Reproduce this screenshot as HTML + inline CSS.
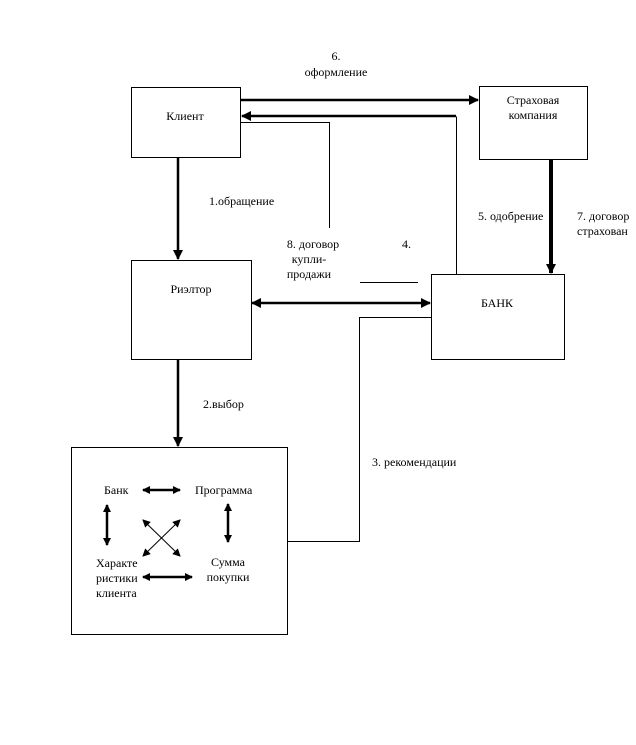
<!DOCTYPE html><html><head><meta charset="utf-8"><style>body{margin:0;background:#fff}svg{display:block}text{font-family:"Liberation Serif",serif;font-size:12px;fill:#000}</style></head><body>
<svg width="636" height="745" viewBox="0 0 636 745">
<defs>
<marker id="a" markerWidth="8" markerHeight="8" refX="7" refY="4" orient="auto-start-reverse" markerUnits="userSpaceOnUse"><path d="M0,0L8,4L0,8z"/></marker>
<marker id="b" markerWidth="10" markerHeight="10" refX="9" refY="5" orient="auto-start-reverse" markerUnits="userSpaceOnUse"><path d="M0,0L10,5L0,10z"/></marker>
</defs>
<g fill="none" stroke="#000" stroke-width="1">
<rect x="131.5" y="87.5" width="109" height="70"/>
<rect x="479.5" y="86.5" width="108" height="73"/>
<rect x="131.5" y="260.5" width="120" height="99"/>
<rect x="431.5" y="274.5" width="133" height="85"/>
<rect x="71.5" y="447.5" width="216" height="187"/>
<polyline points="456.5,274 456.5,116.5"/>
<polyline points="241,122.5 329.5,122.5 329.5,228"/>
<line x1="360" y1="282.5" x2="418" y2="282.5"/>
<polyline points="431,317.5 359.5,317.5 359.5,541.5 287,541.5"/>
<line x1="143" y1="520" x2="180" y2="556" marker-start="url(#a)" marker-end="url(#a)"/>
<line x1="180" y1="520" x2="143" y2="556" marker-start="url(#a)" marker-end="url(#a)"/>
</g>
<g fill="none" stroke="#000" stroke-width="2.5">
<line x1="241" y1="100" x2="478" y2="100" marker-end="url(#b)"/>
<line x1="456" y1="116" x2="242" y2="116" marker-end="url(#b)"/>
<line x1="178" y1="158" x2="178" y2="259" marker-end="url(#b)"/>
<line x1="252" y1="303" x2="430" y2="303" marker-start="url(#b)" marker-end="url(#b)"/>
<line x1="178" y1="360" x2="178" y2="446" marker-end="url(#b)"/>
<line x1="143" y1="490" x2="180" y2="490" marker-start="url(#a)" marker-end="url(#a)"/>
<line x1="107" y1="505" x2="107" y2="545" marker-start="url(#a)" marker-end="url(#a)"/>
<line x1="228" y1="504" x2="228" y2="542" marker-start="url(#a)" marker-end="url(#a)"/>
<line x1="143" y1="577" x2="192" y2="577" marker-start="url(#a)" marker-end="url(#a)"/>
</g>
<line x1="551" y1="159" x2="551" y2="273" stroke="#000" stroke-width="4" marker-end="url(#b)"/>
<text x="185" y="120" text-anchor="middle">Клиент</text>
<text x="533" y="104" text-anchor="middle">Страховая</text>
<text x="533" y="119" text-anchor="middle">компания</text>
<text x="191" y="293" text-anchor="middle">Риэлтор</text>
<text x="497" y="307" text-anchor="middle">БАНК</text>
<text x="336" y="60" text-anchor="middle">6.</text>
<text x="336" y="76" text-anchor="middle">оформление</text>
<text x="209" y="205">1.обращение</text>
<text x="478" y="220">5. одобрение</text>
<text x="577" y="220">7. договор</text>
<text x="577" y="235">страхован</text>
<text x="313" y="248" text-anchor="middle">8. договор</text>
<text x="309" y="263" text-anchor="middle">купли-</text>
<text x="309" y="278" text-anchor="middle">продажи</text>
<text x="402" y="248">4.</text>
<text x="203" y="408">2.выбор</text>
<text x="372" y="466">3. рекомендации</text>
<text x="104" y="494">Банк</text>
<text x="195" y="494">Программа</text>
<text x="96" y="567">Характе</text>
<text x="96" y="582">ристики</text>
<text x="96" y="597">клиента</text>
<text x="228" y="566" text-anchor="middle">Сумма</text>
<text x="228" y="581" text-anchor="middle">покупки</text>
</svg></body></html>
